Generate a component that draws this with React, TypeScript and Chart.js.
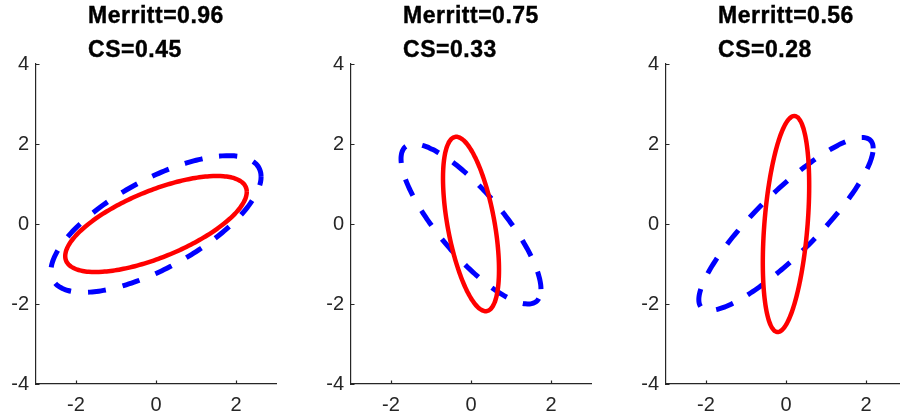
import React, { useEffect, useRef } from "react";
import { Chart, registerables } from "chart.js";

Chart.register(...registerables);

// ---- data ----
const merrittLabels = ["Merritt=0.96", "Merritt=0.75", "Merritt=0.56"];
const csLabels = ["CS=0.45", "CS=0.33", "CS=0.28"];
const xTickValues = [-2, 0, 2];
const yTickValues = [-4, -2, 0, 2, 4];
const xLimits = [-3, 3];
const yLimits = [-4, 4];

// ellipse centres
const centerX = [0, 0, 0];
const centerY = [0, 0, 0];

// red (solid) ellipse covariance entries per panel
const redVarX = [5.15, 0.49, 0.336];
const redCovXY = [1.82, -0.8, 0.56];
const redVarY = [1.44, 4.75, 7.29];

// blue (dashed) ellipse covariance entries per panel
const blueVarX = [6.9, 3.06, 4.75];
const blueCovXY = [3.1, -2.85, 4.12];
const blueVarY = [2.92, 4.0, 4.67];

const ELLIPSE_STEPS = 120;

function ellipsePoints(cx: number, cy: number, sxx: number, sxy: number, syy: number) {
  const l11 = Math.sqrt(sxx);
  const l21 = sxy / l11;
  const l22 = Math.sqrt(Math.max(syy - l21 * l21, 0));
  const pts: { x: number; y: number }[] = [];
  for (let i = 0; i <= ELLIPSE_STEPS; i++) {
    const t = (i / ELLIPSE_STEPS) * Math.PI * 2;
    const c = Math.cos(t);
    const s = Math.sin(t);
    pts.push({ x: cx + l11 * c, y: cy + l21 * c + l22 * s });
  }
  return pts;
}

const AXIS_COLOR = "#262626";
const TICK_FONT = { family: "'Liberation Sans', Arial, sans-serif", size: 20 };

const inwardTicks = {
  id: "inwardTicks",
  afterDraw(chart: any) {
    const { ctx, chartArea, scales } = chart;
    ctx.save();
    ctx.strokeStyle = AXIS_COLOR;
    ctx.lineWidth = 1.2;
    ctx.beginPath();
    for (const v of xTickValues) {
      const px = Math.round(scales.x.getPixelForValue(v)) + 0.5;
      ctx.moveTo(px, chartArea.bottom);
      ctx.lineTo(px, chartArea.bottom - 3.5);
    }
    for (const v of yTickValues) {
      const py = Math.round(scales.y.getPixelForValue(v)) + 0.5;
      ctx.moveTo(chartArea.left, py);
      ctx.lineTo(chartArea.left + 3.5, py);
    }
    ctx.stroke();
    ctx.restore();
  },
};

const twoLineTitle = {
  id: "twoLineTitle",
  afterDraw(chart: any, _args: any, opts: any) {
    const { ctx, chartArea } = chart;
    const lines: string[] = opts.lines || [];
    ctx.save();
    ctx.font = "bold 23px 'Liberation Sans', Arial, sans-serif";
    try {
      (ctx as any).letterSpacing = "0.5px";
    } catch (e) {}
    ctx.fillStyle = "#000000";
    ctx.strokeStyle = "#000000";
    ctx.lineWidth = 0.4;
    ctx.textAlign = "left";
    ctx.textBaseline = "alphabetic";
    let maxW = 0;
    for (const l of lines) maxW = Math.max(maxW, ctx.measureText(l).width);
    const x0 = (chartArea.left + chartArea.right) / 2 - maxW / 2;
    const baselines = [23, 57];
    lines.forEach((l, i) => {
      ctx.fillText(l, x0, baselines[i]);
      ctx.strokeText(l, x0, baselines[i]);
    });
    ctx.restore();
  },
};

const PANEL_OFFSETS = [0, 315, 630];
const CANVAS_W = 290;
const CANVAS_H = 420;

function Panel({ index }: { index: number }) {
  const ref = useRef<HTMLCanvasElement | null>(null);
  useEffect(() => {
    if (!ref.current) return;
    const red = ellipsePoints(centerX[index], centerY[index], redVarX[index], redCovXY[index], redVarY[index]);
    const blue = ellipsePoints(centerX[index], centerY[index], blueVarX[index], blueCovXY[index], blueVarY[index]);
    const chart = new Chart(ref.current, {
      type: "scatter",
      data: {
        datasets: [
          {
            data: red,
            showLine: true,
            borderColor: "#ff0000",
            borderWidth: 4.5,
            borderJoinStyle: "round",
            pointRadius: 0,
            tension: 0.2,
            fill: false,
          },
          {
            data: blue,
            showLine: true,
            borderColor: "#0000ff",
            borderWidth: 5,
            borderDash: [18, 17],
            borderJoinStyle: "round",
            pointRadius: 0,
            tension: 0.2,
            fill: false,
          },
        ],
      },
      options: {
        animation: false,
        responsive: false,
        events: [],
        layout: { padding: { left: 0, right: 14, top: 64, bottom: 0 } },
        plugins: {
          legend: { display: false },
          tooltip: { enabled: false },
          title: { display: false },
          twoLineTitle: { lines: [merrittLabels[index], csLabels[index]] },
        } as any,
        scales: {
          x: {
            type: "linear",
            min: xLimits[0],
            max: xLimits[1],
            afterBuildTicks: (s: any) => {
              s.ticks = xTickValues.map((v) => ({ value: v }));
            },
            afterFit: (s: any) => {
              s.height = 36;
            },
            grid: { display: false, drawTicks: false },
            border: { display: true, color: AXIS_COLOR, width: 1.2 },
            ticks: { font: TICK_FONT, color: AXIS_COLOR, padding: 9, maxRotation: 0, autoSkip: false },
          },
          y: {
            type: "linear",
            min: yLimits[0],
            max: yLimits[1],
            afterBuildTicks: (s: any) => {
              s.ticks = yTickValues.map((v) => ({ value: v }));
            },
            afterFit: (s: any) => {
              s.width = 36;
            },
            grid: { display: false, drawTicks: false },
            border: { display: true, color: AXIS_COLOR, width: 1.2 },
            ticks: { font: TICK_FONT, color: AXIS_COLOR, padding: 7, autoSkip: false },
          },
        },
      },
      plugins: [inwardTicks, twoLineTitle],
    });
    return () => chart.destroy();
  }, [index]);
  return (
    <canvas
      ref={ref}
      width={CANVAS_W}
      height={CANVAS_H}
      style={{ position: "absolute", left: PANEL_OFFSETS[index], top: 0, width: CANVAS_W, height: CANVAS_H }}
    />
  );
}

export default function App() {
  return (
    <div
      style={{
        position: "fixed",
        left: 0,
        top: 0,
        width: 900,
        height: 420,
        overflow: "hidden",
        background: "#ffffff",
      }}
    >
      {[0, 1, 2].map((i) => (
        <Panel key={i} index={i} />
      ))}
    </div>
  );
}
